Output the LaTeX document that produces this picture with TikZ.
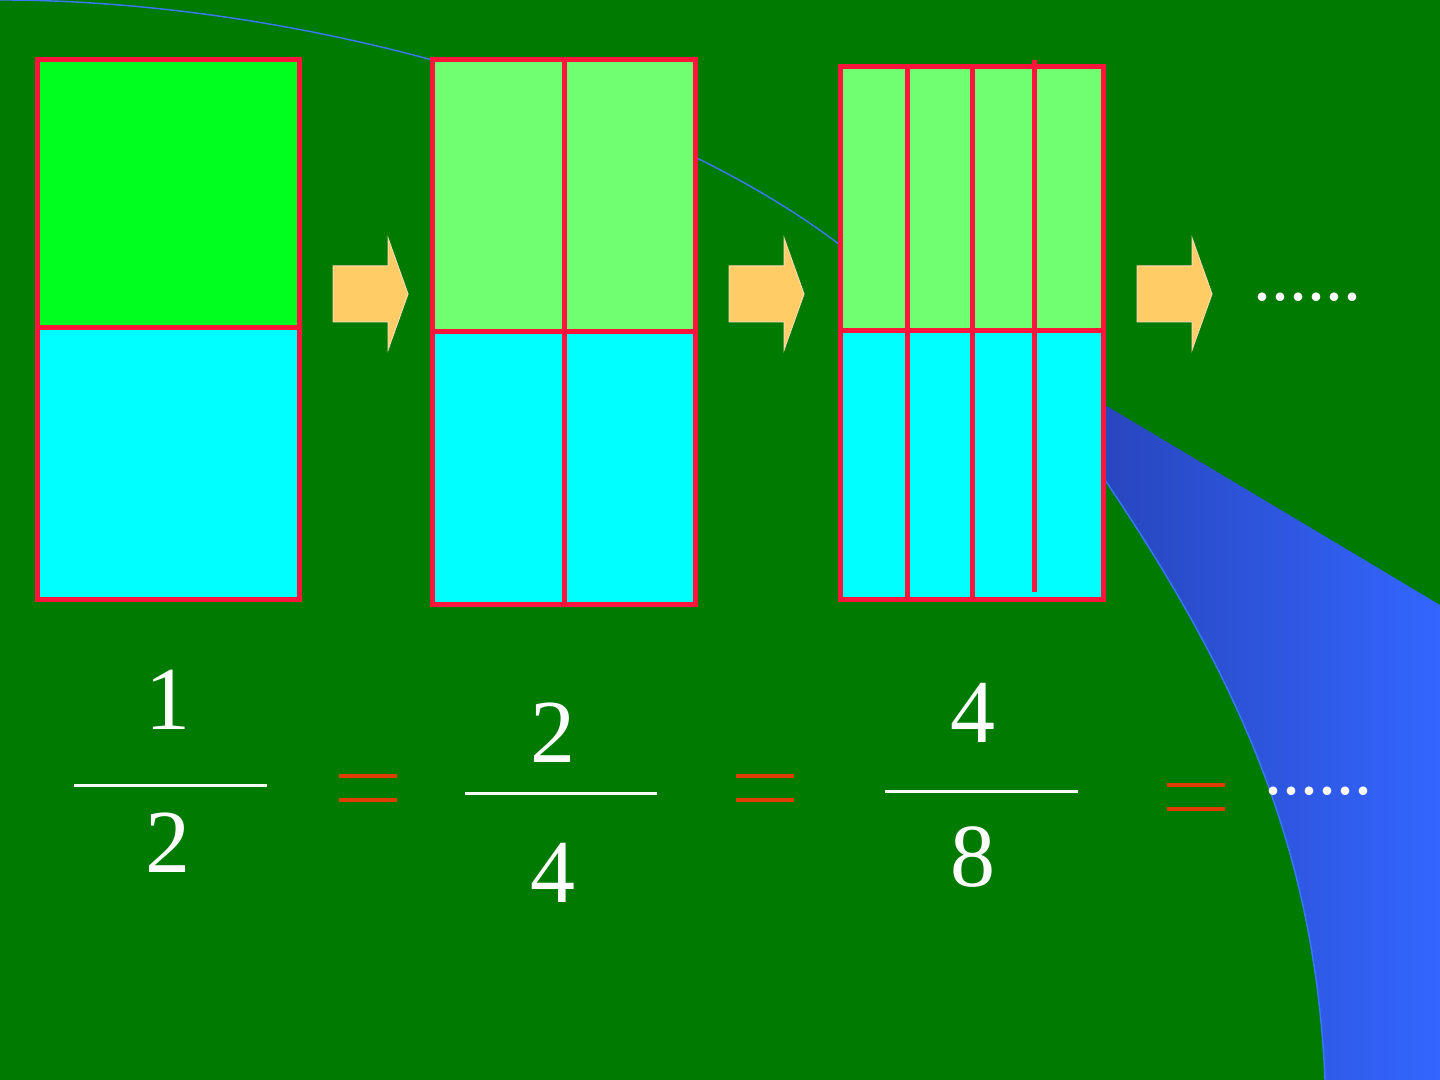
\documentclass[tikz,border=0pt]{standalone}
\usepackage{fontspec}
\setmainfont{Liberation Serif}
\begin{document}
\begin{tikzpicture}[x=0.5pt,y=-0.5pt,
  box/.style={draw={rgb,255:red,255;green,20;blue,60},line width=2.5pt},
  barr/.style={fill={rgb,255:red,255;green,204;blue,102},draw=white!70!orange,line width=0.5pt},
  eq/.style={draw={rgb,255:red,224;green,60;blue,0},line width=2pt},
  num/.style={text=white,font=\fontsize{45}{50}\selectfont},
  dots/.style={text=white,font=\fontsize{36}{40}\selectfont}]
\definecolor{bg}{RGB}{0,122,0}
\definecolor{lg}{RGB}{112,255,112}
\definecolor{bg2}{RGB}{0,255,30}
\definecolor{cy}{RGB}{0,255,255}
\definecolor{bl}{RGB}{60,120,255}
\fill[bg] (0,0) rectangle (1440,1080);
\useasboundingbox (0,0) rectangle (1440,1080);
% blue swoosh
\shade[left color={rgb,255:red,40;green,70;blue,190},right color={rgb,255:red,51;green,102;blue,255}]
  (1105,405) -- (1440,605) -- (1440,1080) -- (1325,1080)
  .. controls (1315,850) and (1240,680) .. (1105,480) -- cycle;
\draw[bl,line width=0.7pt] (0,0) .. controls (300,0) and (650,100) .. (840,245);
\draw[bl,line width=0.7pt] (1105,480) .. controls (1240,680) and (1315,850) .. (1325,1080);
% rect 1
\fill[bg2] (37,60) rectangle (299,328);
\fill[cy] (37,328) rectangle (299,599);
\draw[box] (37,60) rectangle (299,599) (37,328) -- (299,328);
% rect 2
\fill[lg] (432,60) rectangle (695,332);
\fill[cy] (432,332) rectangle (695,604);
\draw[box] (432,60) rectangle (695,604) (432,332) -- (695,332) (564,60) -- (564,604);
% rect 3
\fill[lg] (840,67) rectangle (1103,331);
\fill[cy] (840,331) rectangle (1103,599);
\draw[box] (840,67) rectangle (1103,599) (840,331) -- (1103,331) (907,67) -- (907,599) (972,67) -- (972,599) (1034,60) -- (1034,592);
% arrows
\foreach \x in {333,729,1137}{
 \draw[barr] (\x,266) -- (\x+55,266) -- (\x+55,238) -- (\x+75,294) -- (\x+55,350) -- (\x+55,322) -- (\x,322) -- cycle;}
\node[dots] (d1) at (1307,297) {......};
% fractions
\node[num] (n1) at (168,700) {1};
\draw[white,line width=1.5pt] (74,785) -- (267,785);
\node[num] (m1) at (168,843) {2};
\node[num] (n2) at (553,733) {2};
\draw[white,line width=1.5pt] (465,793) -- (657,793);
\node[num] (m2) at (553,873) {4};
\node[num] (n3) at (973,713) {4};
\draw[white,line width=1.5pt] (885,791) -- (1078,791);
\node[num] (m3) at (973,857) {8};
\foreach \x/\y in {368/788,765/788,1196/797}{
 \draw[eq] (\x-29,\y-12) -- (\x+29,\y-12) (\x-29,\y+12) -- (\x+29,\y+12);}
\node[dots] (d2) at (1318,791) {......};
\end{tikzpicture}
\end{document}
